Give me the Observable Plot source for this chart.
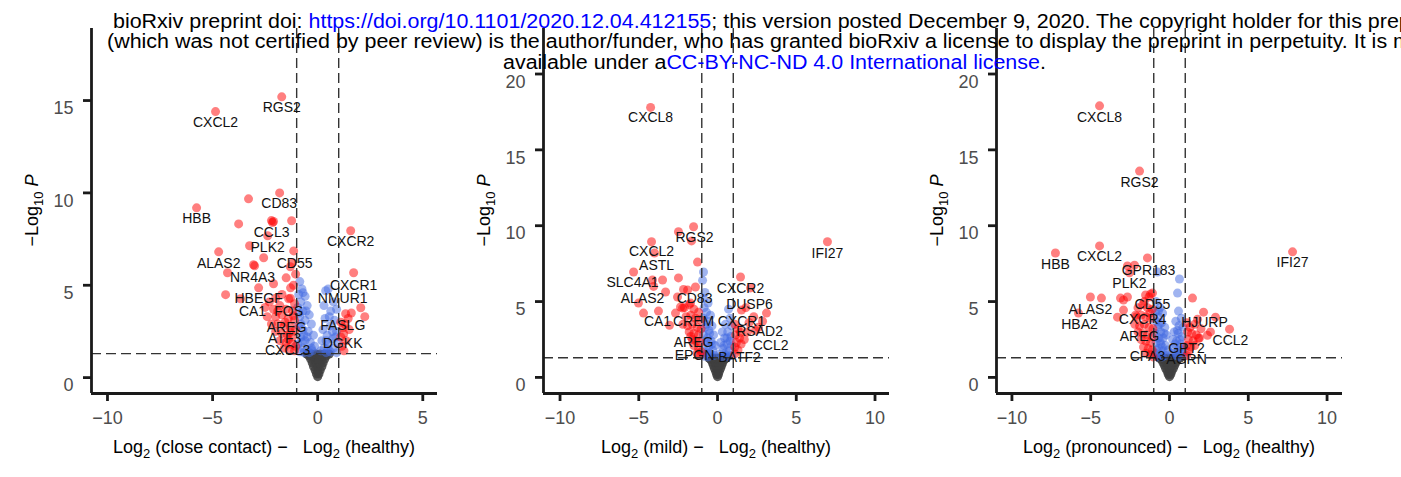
<!DOCTYPE html>
<html>
<head>
<meta charset="utf-8">
<script src="https://cdn.jsdelivr.net/npm/d3@7"></script>
<script src="https://cdn.jsdelivr.net/npm/@observablehq/plot@0.6"></script>
<style>
  html, body { margin: 0; padding: 0; background: #fff; }
  #wrap { position: relative; width: 1401px; height: 477px; overflow: hidden; font-family: "Liberation Sans", Arial, sans-serif; background: #fff; }
  .panel { position: absolute; top: 0; }
  .hdr { position: absolute; white-space: nowrap; font-size: 19.5px; line-height: 20px; color: #000; transform-origin: 0 0; transform: scaleX(1.1); z-index: 5; }
  .hdr .lnk { color: #0000ff; }
</style>
</head>
<body>
<div id="wrap">
  <div class="panel" id="p0" style="left:0px"></div>
  <div class="panel" id="p1" style="left:467px"></div>
  <div class="panel" id="p2" style="left:934px"></div>
  <div class="hdr" style="left:113px;top:10.5px">bioRxiv preprint doi: <span class="lnk">https://doi.org/10.1101/2020.12.04.412155</span>; this version posted December 9, 2020. The copyright holder for this preprint</div>
  <div class="hdr" style="left:106.5px;top:31px">(which was not certified by peer review) is the author/funder, who has granted bioRxiv a license to display the preprint in perpetuity. It is made</div>
  <div class="hdr" style="left:503px;top:51.5px">available under a<span class="lnk">CC-BY-NC-ND 4.0 International license</span>.</div>
</div>
<script>
// ---------------- data ----------------
const conditions = ["close contact", "mild", "pronounced"];
const fcCut = [-1, 1];          // log2 fold-change cutoffs
const pCut = [1.30103];         // -log10(0.05)

const xTicksA = [-10, -5, 0, 5];
const xTicksB = [-10, -5, 0, 5, 10];
const yTicksA = [0, 5, 10, 15];
const yTicksB = [0, 5, 10, 15, 20];

// panel 1: close contact vs healthy  [log2FC, -log10 P]
const closeContactNS = [[0,0.05],[-0.06,0.2],[0.06,0.2],[-0.12,0.4],[0.12,0.4],[0,0.35],[-0.2,0.6],[0.2,0.6],[0,0.6],[-0.26,0.8],[0.26,0.8],[-0.1,0.8],[0.1,0.8],[-0.33,1.0],[0.33,1.0],[-0.15,1.0],[0.15,1.0],[0,1.0],[-0.42,1.18],[0.42,1.18],[-0.22,1.18],[0.22,1.18],[0,1.2],[-0.52,1.28],[0.55,1.28],[-0.32,1.28],[0.32,1.28],[-0.1,1.28],[0.1,1.28]];
const closeContactSig = [
  [-0.85,5.2],[-0.75,4.8],[-0.9,4.5],[-0.6,4.4],[-0.8,4.1],[-0.5,3.9],[-0.95,3.8],[-0.7,3.6],[-0.4,3.4],[-0.85,3.3],[-0.6,3.1],[-0.3,2.9],[-0.9,2.8],[-0.7,2.6],[-0.45,2.5],[-0.2,2.3],[-0.8,2.2],[-0.6,2.0],[-0.35,1.9],[-0.95,1.8],[-0.15,1.7],[-0.7,1.6],[-0.5,1.5],[-0.25,1.45],[-0.85,1.4],[-0.4,1.35],[-0.65,1.35],
  [-0.7,4.6],[-0.55,3.6],[-0.8,2.9],[-0.5,2.2],[-0.3,1.6],[-0.75,1.9],[-0.9,3.5],[-0.65,2.3],
  [0.5,4.8],[0.38,4.7],[0.75,4.1],[0.3,3.9],[0.9,3.7],[0.62,3.6],[0.35,3.2],[0.8,3.1],[0.6,2.8],[0.25,2.6],[0.9,2.5],[0.45,2.3],[0.7,2.1],[0.2,2.0],[0.95,1.9],[0.5,1.8],[0.3,1.6],[0.75,1.6],[0.15,1.45],[0.6,1.4],[0.4,1.35],[0.9,1.35],
  [0.55,3.3],[0.7,2.5],[0.4,2.0],[0.85,2.2],[0.5,1.55],
  [-1.71,15.2],[-4.86,14.4],[-1.81,10.0],[-3.29,9.68],[-5.76,9.19],[-3.76,8.32],[-2.2,8.5],[-2.1,8.45],[-2.15,8.4],[-1.24,8.49],[1.57,7.95],[-2.38,7.68],[-1.14,6.86],[-3.24,7.14],[-4.71,6.81],[-2.57,6.49],[-3.05,6.11],[-3.0,6.05],[-1.19,6.22],[-4.29,5.68],[-2.1,5.08],[-2.81,4.86],[-4.38,4.49],[-3.67,4.27],[-1.29,4.86],[-1.38,4.27],[1.71,5.68],[2.05,3.78],[2.24,3.3],[1.33,3.46],[1.24,2.38],[1.2,2.7],
  [-2.3,4.1],[-2.0,4.3],[-1.7,4.5],[-1.3,4.3],[-1.1,4.0],[-2.5,3.8],[-2.1,3.7],[-1.8,3.9],[-1.5,3.7],[-1.2,3.6],[-2.4,3.3],[-2.0,3.3],[-1.7,3.4],[-1.4,3.2],[-1.1,3.1],[-2.2,2.9],[-1.9,2.9],[-1.6,2.8],[-1.3,2.7],[-1.05,2.6],[-2.0,2.5],[-1.7,2.4],[-1.45,2.3],[-1.2,2.2],[-1.8,2.0],[-1.5,1.9],[-1.25,1.8],[-1.05,1.7],[-1.6,1.6],[-1.35,1.5],[-1.1,1.45],[-1.15,5.0],[-1.5,5.4],[-1.05,5.6],[-1.3,6.0],
  [-1.9,3.6],[-1.55,3.0],[-1.3,2.45],[-1.15,3.35],[-1.4,2.05],
  [1.1,3.0],[1.3,2.9],[1.5,2.6],[1.1,2.2],[1.35,2.0],[1.15,1.7],[1.25,1.45],[1.6,3.5],[1.45,3.2]
];
const closeContactLabels = [["RGS2",-1.71,14.6],["CXCL2",-4.86,13.8],["CD83",-1.83,9.4],["HBB",-5.76,8.6],["CCL3",-2.19,7.84],["CXCR2",1.57,7.35],["PLK2",-2.38,7.03],["ALAS2",-4.71,6.2],["CD55",-1.1,6.16],["NR4A3",-3.1,5.41],["CXCR1",1.71,4.97],["HBEGF",-2.81,4.27],["NMUR1",1.19,4.27],["CA1",-3.1,3.6],["FOS",-1.38,3.6],["FASLG",1.19,2.81],["AREG",-1.48,2.7],["ATF3",-1.57,2.1],["DGKK",1.19,1.84],["CXCL3",-1.43,1.46]];

// panel 2: mild vs healthy
const mildNS = [[0,0.05],[-0.06,0.2],[0.06,0.2],[-0.12,0.4],[0.12,0.4],[0,0.38],[-0.2,0.6],[0.2,0.6],[0,0.6],[-0.27,0.8],[0.27,0.8],[-0.1,0.8],[0.1,0.8],[-0.34,1.0],[0.34,1.0],[-0.15,1.0],[0.15,1.0],[0,1.0],[-0.44,1.18],[0.44,1.18],[-0.22,1.18],[0.22,1.18],[0,1.2],[-0.55,1.28],[0.57,1.28],[-0.33,1.28],[0.33,1.28],[-0.1,1.28],[0.1,1.28]];
const mildSig = [
  [-0.89,6.95],[-0.95,6.4],[-0.8,5.6],[-0.9,5.2],[-0.6,4.9],[-0.85,4.6],[-0.7,4.3],[-0.45,4.1],[-0.9,3.9],[-0.6,3.7],[-0.35,3.4],[-0.8,3.3],[-0.55,3.1],[-0.25,2.8],[-0.9,2.8],[-0.65,2.6],[-0.4,2.4],[-0.15,2.1],[-0.8,2.2],[-0.55,2.0],[-0.3,1.8],[-0.95,1.7],[-0.7,1.6],[-0.45,1.5],[-0.2,1.45],[-0.85,1.4],[-0.6,1.35],
  [-0.7,3.5],[-0.5,2.9],[-0.75,2.4],[-0.35,2.2],[-0.6,1.7],
  [0.7,4.5],[0.8,3.9],[0.5,3.5],[0.9,3.4],[0.3,3.0],[0.65,3.0],[0.45,2.6],[0.85,2.7],[0.2,2.3],[0.6,2.2],[0.9,2.1],[0.35,1.9],[0.75,1.75],[0.15,1.55],[0.5,1.5],[0.9,1.45],[0.3,1.35],[0.65,1.35],
  [0.6,2.6],[0.4,2.1],[0.8,2.4],[0.55,1.65],
  [-4.25,17.8],[-1.52,9.93],[-2.48,9.6],[-4.19,8.94],[-1.65,9.0],[6.98,8.94],[-4.0,8.2],[-1.27,7.6],[-5.33,6.95],[-3.49,6.42],[-4.13,6.42],[-2.48,6.56],[-4.06,6.0],[-3.3,5.63],[-2.16,5.8],[-1.9,5.76],[-1.4,5.96],[-5.02,4.9],[-4.7,4.24],[-3.75,4.37],[-2.22,4.57],[-2.67,4.24],[-2.54,5.3],[-1.71,4.9],[-3.05,3.44],[-2.35,4.64],
  [-2.1,4.6],[-1.8,4.8],[-1.5,4.5],[-1.2,4.3],[-2.0,4.0],[-1.7,4.1],[-1.4,3.9],[-1.1,3.8],[-2.2,3.5],[-1.9,3.4],[-1.6,3.5],[-1.3,3.3],[-1.05,3.2],[-1.8,3.0],[-1.5,2.9],[-1.2,2.8],[-1.6,2.5],[-1.35,2.4],[-1.1,2.3],[-1.5,2.1],[-1.2,1.9],[-1.05,1.7],[-1.3,1.6],[-1.1,1.45],[-1.7,2.7],
  [1.46,6.62],[2.1,5.9],[1.52,4.44],[3.11,4.24],[2.86,3.7],[2.6,3.31],[2.41,3.1],[1.46,2.98],[2.0,3.6],[1.8,4.6],[2.3,4.0],
  [1.1,3.5],[1.3,3.2],[1.15,2.8],[1.4,2.6],[1.2,2.3],[1.5,2.2],[1.1,2.0],[1.3,1.8],[1.1,1.55],[1.7,2.5],[1.9,3.0]
];
const mildLabels = [["CXCL8",-4.25,17.15],["RGS2",-1.46,9.2],["IFI27",6.98,8.2],["CXCL2",-4.19,8.28],["ASTL",-3.87,7.35],["SLC4A1",-5.4,6.23],["CXCR2",1.46,5.83],["ALAS2",-4.76,5.23],["CD83",-1.46,5.17],["DUSP6",2.03,4.83],["CA1",-3.81,3.71],["CREM",-1.52,3.71],["CXCR1",1.52,3.71],["RSAD2",2.67,3.05],["CCL2",3.37,2.12],["AREG",-1.52,2.32],["EPGN",-1.46,1.46],["BATF2",1.4,1.32]];

// panel 3: pronounced vs healthy
const pronouncedNS = [[0,0.05],[-0.08,0.2],[0.08,0.2],[-0.15,0.4],[0.15,0.4],[0,0.38],[-0.25,0.6],[0.25,0.6],[0,0.6],[-0.33,0.8],[0.33,0.8],[-0.12,0.8],[0.12,0.8],[-0.42,1.0],[0.42,1.0],[-0.2,1.0],[0.2,1.0],[0,1.0],[-0.52,1.18],[0.52,1.18],[-0.28,1.18],[0.28,1.18],[0,1.2],[-0.65,1.28],[0.68,1.28],[-0.4,1.28],[0.4,1.28],[-0.15,1.28],[0.15,1.28]];
const pronouncedSig = [
  [-0.76,6.95],[-0.85,5.0],[-0.6,4.6],[-0.9,4.3],[-0.44,4.24],[-0.7,4.0],[-0.85,3.7],[-0.5,3.6],[-0.3,3.3],[-0.75,3.3],[-0.55,3.0],[-0.9,2.9],[-0.2,2.8],[-0.4,2.6],[-0.7,2.6],[-0.85,2.3],[-0.55,2.2],[-0.25,2.1],[-0.1,1.8],[-0.7,1.9],[-0.4,1.75],[-0.9,1.6],[-0.6,1.5],[-0.25,1.45],[-0.8,1.35],[-0.45,1.35],
  [-0.65,3.5],[-0.35,2.9],[-0.6,2.4],[-0.8,1.8],[-0.45,2.0],[-0.7,4.4],
  [0.63,6.49],[0.51,5.56],[0.57,4.37],[0.75,3.9],[0.4,3.7],[0.6,3.4],[0.85,3.3],[0.3,3.0],[0.55,2.9],[0.8,2.7],[0.2,2.5],[0.45,2.4],[0.7,2.2],[0.9,2.0],[0.3,1.9],[0.55,1.8],[0.15,1.6],[0.75,1.55],[0.4,1.45],[0.95,1.4],[0.6,1.35],
  [0.5,3.1],[0.65,2.5],[0.35,2.2],[0.85,1.75],[0.5,1.6],
  [-4.44,17.9],[-1.9,13.6],[-4.44,8.67],[-7.24,8.2],[7.81,8.28],[-1.4,7.88],[-2.22,7.4],[-2.67,7.35],[-2.54,6.9],[-5.02,5.3],[-4.32,5.23],[-3.11,5.23],[-2.92,5.1],[-2.67,5.3],[-1.52,5.43],[-1.08,5.56],[-1.3,5.3],[-1.2,5.5],[-5.78,4.24],[-3.3,3.97],[-2.92,4.44],[-2.16,4.1],
  [1.46,5.23],[2.16,4.3],[2.92,3.97],[3.81,3.18],[2.41,2.78],[1.84,2.58],[1.78,3.84],
  [-2.0,4.6],[-1.7,4.8],[-1.4,4.6],[-1.1,4.5],[-2.1,4.0],[-1.8,4.1],[-1.5,4.0],[-1.2,3.9],[-2.2,3.5],[-1.9,3.4],[-1.6,3.5],[-1.3,3.3],[-1.05,3.2],[-2.0,3.0],[-1.7,2.9],[-1.4,2.8],[-1.1,2.7],[-1.8,2.5],[-1.5,2.4],[-1.2,2.3],[-1.65,2.0],[-1.35,1.9],[-1.1,1.8],[-1.5,1.6],[-1.2,1.5],[-1.05,1.35],[-1.25,4.25],[-1.6,5.0],
  [1.1,3.6],[1.3,3.3],[1.6,3.5],[1.15,3.0],[1.4,2.9],[1.7,2.8],[1.2,2.5],[1.5,2.4],[1.9,2.6],[1.1,2.1],[1.35,2.0],[1.6,2.1],[1.2,1.7],[1.1,1.45],[2.6,3.0],[2.0,3.2]
];
const pronouncedLabels = [["CXCL8",-4.44,17.15],["RGS2",-1.9,12.85],["HBB",-7.24,7.42],["CXCL2",-4.44,7.95],["IFI27",7.81,7.55],["GPR183",-1.33,7.02],["PLK2",-2.54,6.16],["CD55",-1.08,4.83],["ALAS2",-5.02,4.5],["CXCR4",-1.71,3.84],["HJURP",2.22,3.64],["HBA2",-5.71,3.51],["AREG",-1.9,2.72],["CCL2",3.87,2.45],["GPT2",1.08,1.92],["CPA3",-1.4,1.39],["AGRN",1.08,1.19]];

// ---------------- layout (not data) ----------------
const panels = [
  {id: "p0", cond: conditions[0], ns: closeContactNS, sig: closeContactSig, labels: closeContactLabels,
   xDomain: [-10.76, 5.7], yDomain: [-0.86, 18.9], xTicks: xTicksA, yTicks: yTicksA,
   width: 467, marginLeft: 91, marginRight: 30},
  {id: "p1", cond: conditions[1], ns: mildNS, sig: mildSig, labels: mildLabels,
   xDomain: [-11.05, 10.92], yDomain: [-1.06, 23.0], xTicks: xTicksB, yTicks: yTicksB,
   width: 467, marginLeft: 76, marginRight: 45},
  {id: "p2", cond: conditions[2], ns: pronouncedNS, sig: pronouncedSig, labels: pronouncedLabels,
   xDomain: [-10.98, 10.98], yDomain: [-1.06, 23.0], xTicks: xTicksB, yTicks: yTicksB,
   width: 467, marginLeft: 62, marginRight: 59}
];
const H = 477, MT = 28, MB = 84;
const FONT = "'Liberation Sans', Arial, Helvetica, sans-serif";

for (const P of panels) {
  const ns = P.ns.map(([x, y]) => ({x, y}));
  const sig = P.sig.map(([x, y]) => ({x, y}));
  const blue = sig.filter(d => d.y > pCut[0] && Math.abs(d.x) <= fcCut[1]);
  const red = sig.filter(d => d.y > pCut[0] && Math.abs(d.x) > fcCut[1]);
  const labs = P.labels.map(([g, x, y]) => ({g, x, y}));
  const chart = Plot.plot({
    width: P.width, height: H,
    marginLeft: P.marginLeft, marginRight: P.marginRight, marginTop: MT, marginBottom: MB,
    x: {domain: P.xDomain},
    y: {domain: P.yDomain},
    style: {fontFamily: FONT, color: "#4d4d4d", background: "transparent", overflow: "visible"},
    marks: [
      Plot.dot(ns, {x: "x", y: "y", r: 4.5, fill: "#3f3f3f", fillOpacity: 0.85, stroke: null}),
      Plot.dot(blue, {x: "x", y: "y", r: 4.5, fill: "#4169E1", fillOpacity: 0.5, stroke: null}),
      Plot.dot(red, {x: "x", y: "y", r: 4.5, fill: "#FF0000", fillOpacity: 0.5, stroke: null}),
      Plot.ruleX(fcCut, {stroke: "#333", strokeWidth: 1.4, strokeDasharray: "10,5"}),
      Plot.ruleY(pCut, {stroke: "#333", strokeWidth: 1.4, strokeDasharray: "10,5"}),
      Plot.text(labs, {x: "x", y: "y", text: "g", fontSize: 14, fill: "#111"}),
      Plot.axisX({ticks: P.xTicks, tickSize: 8, tickPadding: 10, fontSize: 18, stroke: "#1a1a1a", strokeWidth: 2.8, label: null}),
      Plot.axisY({ticks: P.yTicks, tickSize: 8, tickFormat: () => "", fill: "none", stroke: "#1a1a1a", strokeWidth: 2.8, label: null}),
      Plot.text(P.yTicks, {y: d => d, text: d => String(d), frameAnchor: "left", dx: -18, dy: 8, textAnchor: "end", fontSize: 18, fill: "#4d4d4d"}),
      Plot.ruleX([P.xDomain[0]], {stroke: "#1a1a1a", strokeWidth: 2.8}),
      Plot.ruleY([P.yDomain[0]], {stroke: "#1a1a1a", strokeWidth: 2.8})
    ]
  });
  const svg = d3.select(chart);
  const frameBottom = H - MB;
  const cx = (P.marginLeft + P.width - P.marginRight) / 2;
  const xt = svg.append("text")
    .attr("x", cx).attr("y", 453).attr("text-anchor", "middle")
    .attr("font-size", 18).attr("fill", "#000").attr("font-family", FONT)
    .style("white-space", "pre");
  xt.append("tspan").text("Log");
  xt.append("tspan").attr("font-size", 13).attr("dy", 5).text("2");
  xt.append("tspan").attr("dy", -5).text(" (" + P.cond + ") \u2212   Log");
  xt.append("tspan").attr("font-size", 13).attr("dy", 5).text("2");
  xt.append("tspan").attr("dy", -5).text(" (healthy)");

  const yt = svg.append("text")
    .attr("transform", `translate(${P.marginLeft - 53},${(MT + frameBottom) / 2}) rotate(-90)`)
    .attr("text-anchor", "middle").attr("font-size", 18).attr("fill", "#000").attr("font-family", FONT)
    .style("white-space", "pre");
  yt.append("tspan").text("\u2212Log");
  yt.append("tspan").attr("font-size", 13).attr("dy", 5).text("10");
  yt.append("tspan").attr("dy", -5).text(" ");
  yt.append("tspan").attr("font-style", "italic").text("P");

  document.getElementById(P.id).appendChild(chart);
}
</script>
</body>
</html>
